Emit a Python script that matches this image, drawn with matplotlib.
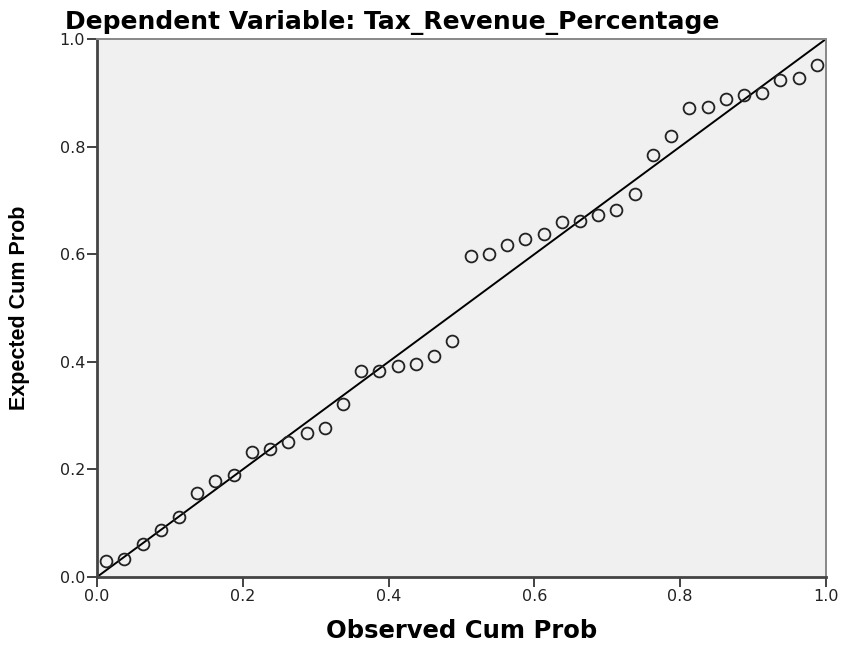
import matplotlib.pyplot as plt

plt.rcParams['font.family'] = ['DejaVu Sans']

# P-P plot of regression standardized residuals
observed_cum_prob = [
    0.0125, 0.0375, 0.0625, 0.0875, 0.1125, 0.1375, 0.1625, 0.1875,
    0.2125, 0.2375, 0.2625, 0.2875, 0.3125, 0.3375, 0.3625, 0.3875,
    0.4125, 0.4375, 0.4625, 0.4875, 0.5125, 0.5375, 0.5625, 0.5875,
    0.6125, 0.6375, 0.6625, 0.6875, 0.7125, 0.7375, 0.7625, 0.7875,
    0.8125, 0.8375, 0.8625, 0.8875, 0.9125, 0.9375, 0.9625, 0.9875,
]
expected_cum_prob = [
    0.030, 0.033, 0.062, 0.087, 0.112, 0.157, 0.179, 0.190,
    0.232, 0.237, 0.250, 0.267, 0.277, 0.321, 0.383, 0.383,
    0.393, 0.395, 0.411, 0.439, 0.596, 0.600, 0.617, 0.629,
    0.638, 0.660, 0.662, 0.672, 0.682, 0.711, 0.784, 0.820,
    0.872, 0.873, 0.889, 0.895, 0.899, 0.923, 0.927, 0.952,
]
ticks = [0.0, 0.2, 0.4, 0.6, 0.8, 1.0]
tick_labels = ['0.0', '0.2', '0.4', '0.6', '0.8', '1.0']

fig = plt.figure(figsize=(8.43, 6.48), dpi=100)
ax = fig.add_axes([0.1151, 0.1096, 0.8647, 0.8302])
ax.set_facecolor('#f0f0f0')

ax.plot([0, 1], [0, 1], color='black', linewidth=1.4, zorder=2)
ax.plot(observed_cum_prob, expected_cum_prob, linestyle='none', marker='o',
        markersize=8.5, markerfacecolor='none', markeredgecolor='#222222',
        markeredgewidth=1.3, zorder=3)

ax.set_xlim(0, 1)
ax.set_ylim(0, 1)
ax.set_xticks(ticks)
ax.set_xticklabels(tick_labels)
ax.set_yticks(ticks)
ax.set_yticklabels(tick_labels)
ax.tick_params(direction='out', length=7, width=1.2, labelsize=11.5,
               colors='#222222', pad=1.5)

for side in ['left', 'bottom']:
    ax.spines[side].set_color('#444444')
    ax.spines[side].set_linewidth(2.0)
for side in ['top', 'right']:
    ax.spines[side].set_color('#888888')
    ax.spines[side].set_linewidth(1.4)

ax.set_xlabel('Observed Cum Prob', fontsize=17.5, fontweight='bold', va='center')
ax.xaxis.set_label_coords(0.5, -0.100)
ax.set_ylabel('Expected Cum Prob', fontsize=15.5, fontweight='bold', va='center',
              family=['Liberation Sans Narrow', 'Liberation Sans'])
ax.yaxis.set_label_coords(-0.106, 0.5)

fig.text(0.077, 0.966, 'Dependent Variable: Tax_Revenue_Percentage',
         fontsize=18, fontweight='bold', ha='left', va='center')

fig.savefig('out.png', dpi=100, facecolor='white')
